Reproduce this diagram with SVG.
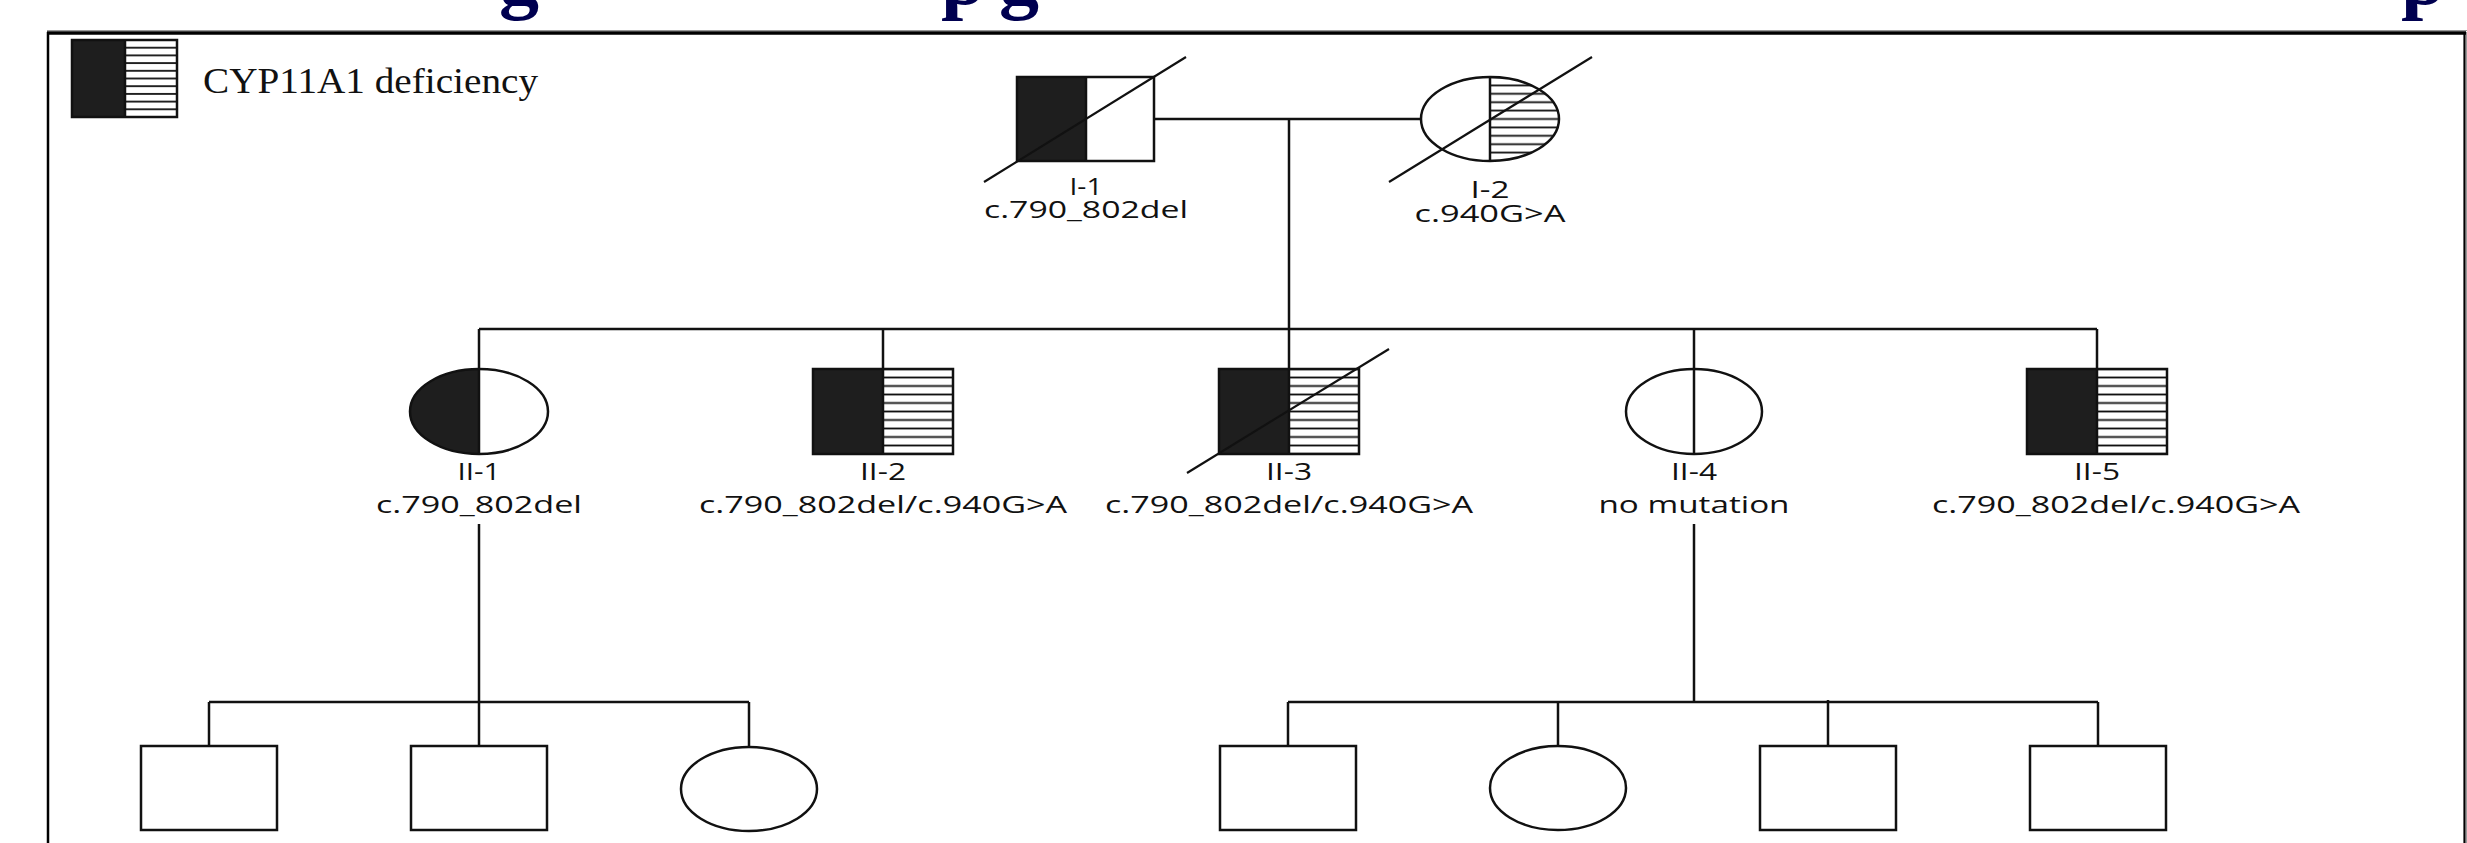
<svg xmlns="http://www.w3.org/2000/svg" width="2467" height="843" viewBox="0 0 2467 843">
<style>
.ln{stroke:#111;stroke-width:2.5;fill:none}
.node{stroke:#111;stroke-width:2.5;fill:none}
.blk{fill:#1e1e1e}
.dx{stroke:#111;stroke-width:2.2}
.lab{font-family:"Open Sans","Noto Sans","DejaVu Sans",sans-serif;font-size:23px;fill:#111;text-anchor:middle}
.leg{font-family:"Liberation Serif","Times New Roman",serif;font-size:35px;fill:#111}
.ttl{font-family:"Liberation Serif","Times New Roman",serif;font-weight:bold;font-size:80px;fill:#000050}
</style>
<defs>
<pattern id="stL" patternUnits="userSpaceOnUse" x="0" y="36.15" width="20" height="7.7"><line x1="0" y1="3.85" x2="20" y2="3.85" stroke="#111" stroke-width="1.8"/></pattern>
<pattern id="stI" patternUnits="userSpaceOnUse" x="0" y="72.8" width="20" height="8.4"><line x1="0" y1="4.2" x2="20" y2="4.2" stroke="#111" stroke-width="1.8"/></pattern>
<pattern id="stII" patternUnits="userSpaceOnUse" x="0" y="364.75" width="20" height="8.5"><line x1="0" y1="4.25" x2="20" y2="4.25" stroke="#111" stroke-width="1.8"/></pattern>
</defs>
<rect x="0" y="0" width="2467" height="843" fill="#ffffff"/>

<g id="title">
<text class="ttl" x="499" y="4">g</text>
<text class="ttl" x="941" y="4">p</text>
<text class="ttl" x="999" y="4">g</text>
<text class="ttl" x="2401" y="4">p</text>
</g>

<g id="frame">
<line x1="47" y1="30.5" x2="2467" y2="30.5" stroke="#999" stroke-width="1"/>
<line x1="47" y1="33" x2="2466" y2="33" stroke="#000" stroke-width="3.5"/>
<line x1="48" y1="32" x2="48" y2="843" stroke="#000" stroke-width="2.5"/>
<line x1="2464.5" y1="32" x2="2464.5" y2="843" stroke="#000" stroke-width="2.2"/>
<line x1="2466.5" y1="32" x2="2466.5" y2="843" stroke="#999" stroke-width="1"/>
</g>

<g id="legend">
<rect x="72" y="40" width="53" height="77" class="blk"/>
<rect x="125" y="40" width="52" height="77" fill="url(#stL)"/>
<rect x="72" y="40" width="105" height="77" class="node"/>
<line x1="125" y1="40" x2="125" y2="117" class="ln"/>
<text class="leg" x="203" y="93" textLength="335" lengthAdjust="spacingAndGlyphs">CYP11A1 deficiency</text>
</g>

<g id="connectors">
<line x1="1154" y1="119" x2="1421" y2="119" class="ln"/>
<line x1="1289" y1="119" x2="1289" y2="369" class="ln"/>
<line x1="479" y1="329" x2="2097" y2="329" class="ln"/>
<line x1="479" y1="329" x2="479" y2="369" class="ln"/>
<line x1="883" y1="329" x2="883" y2="369" class="ln"/>
<line x1="1694" y1="329" x2="1694" y2="369" class="ln"/>
<line x1="2097" y1="329" x2="2097" y2="369" class="ln"/>
<line x1="479" y1="524" x2="479" y2="746" class="ln"/>
<line x1="209" y1="702" x2="749" y2="702" class="ln"/>
<line x1="209" y1="702" x2="209" y2="746" class="ln"/>
<line x1="749" y1="702" x2="749" y2="747" class="ln"/>
<line x1="1694" y1="524" x2="1694" y2="702" class="ln"/>
<line x1="1288" y1="702" x2="2098" y2="702" class="ln"/>
<line x1="1288" y1="702" x2="1288" y2="746" class="ln"/>
<line x1="1558" y1="702" x2="1558" y2="746" class="ln"/>
<line x1="1828" y1="700" x2="1828" y2="746" class="ln"/>
<line x1="2098" y1="702" x2="2098" y2="746" class="ln"/>
</g>

<g id="I-1">
<rect x="1017" y="77" width="69" height="84" class="blk"/>
<rect x="1017" y="77" width="137" height="84" class="node"/>
<line x1="1086" y1="77" x2="1086" y2="161" class="ln"/>
<line x1="984" y1="182" x2="1186" y2="57" class="dx"/>
<text class="lab" x="1086" y="195" textLength="33" lengthAdjust="spacingAndGlyphs">I-1</text>
<text class="lab" x="1086" y="218" textLength="204" lengthAdjust="spacingAndGlyphs">c.790_802del</text>
</g>

<g id="I-2">
<path d="M1490,77 A69,42 0 0 1 1490,161 Z" fill="url(#stI)"/>
<ellipse cx="1490" cy="119" rx="69" ry="42" class="node"/>
<line x1="1490" y1="77" x2="1490" y2="161" class="ln"/>
<line x1="1389" y1="182" x2="1592" y2="57" class="dx"/>
<text class="lab" x="1490" y="198" textLength="39" lengthAdjust="spacingAndGlyphs">I-2</text>
<text class="lab" x="1490" y="222" textLength="151" lengthAdjust="spacingAndGlyphs">c.940G&gt;A</text>
</g>

<g id="II-1">
<path d="M479,369 A69,42.5 0 0 0 479,454 Z" class="blk"/>
<ellipse cx="479" cy="411.5" rx="69" ry="42.5" class="node"/>
<line x1="479" y1="369" x2="479" y2="454" class="ln"/>
<text class="lab" x="479" y="480" textLength="43" lengthAdjust="spacingAndGlyphs">II-1</text>
<text class="lab" x="479" y="513" textLength="206" lengthAdjust="spacingAndGlyphs">c.790_802del</text>
</g>

<g id="II-2">
<rect x="813" y="369" width="70" height="85" class="blk"/>
<rect x="883" y="369" width="70" height="85" fill="url(#stII)"/>
<rect x="813" y="369" width="140" height="85" class="node"/>
<line x1="883" y1="369" x2="883" y2="454" class="ln"/>
<text class="lab" x="883" y="480" textLength="46" lengthAdjust="spacingAndGlyphs">II-2</text>
<text class="lab" x="883" y="513" textLength="368" lengthAdjust="spacingAndGlyphs">c.790_802del/c.940G&gt;A</text>
</g>

<g id="II-3">
<rect x="1219" y="369" width="70" height="85" class="blk"/>
<rect x="1289" y="369" width="70" height="85" fill="url(#stII)"/>
<rect x="1219" y="369" width="140" height="85" class="node"/>
<line x1="1289" y1="369" x2="1289" y2="454" class="ln"/>
<line x1="1187" y1="473" x2="1389" y2="349" class="dx"/>
<text class="lab" x="1289" y="480" textLength="46" lengthAdjust="spacingAndGlyphs">II-3</text>
<text class="lab" x="1289" y="513" textLength="368" lengthAdjust="spacingAndGlyphs">c.790_802del/c.940G&gt;A</text>
</g>

<g id="II-4">
<ellipse cx="1694" cy="411.5" rx="68" ry="42.5" class="node"/>
<line x1="1694" y1="369" x2="1694" y2="454" class="ln"/>
<text class="lab" x="1694" y="480" textLength="46" lengthAdjust="spacingAndGlyphs">II-4</text>
<text class="lab" x="1694" y="513" textLength="191" lengthAdjust="spacingAndGlyphs">no mutation</text>
</g>

<g id="II-5">
<rect x="2027" y="369" width="70" height="85" class="blk"/>
<rect x="2097" y="369" width="70" height="85" fill="url(#stII)"/>
<rect x="2027" y="369" width="140" height="85" class="node"/>
<line x1="2097" y1="369" x2="2097" y2="454" class="ln"/>
<text class="lab" x="2097" y="480" textLength="46" lengthAdjust="spacingAndGlyphs">II-5</text>
<text class="lab" x="2116" y="513" textLength="368" lengthAdjust="spacingAndGlyphs">c.790_802del/c.940G&gt;A</text>
</g>

<g id="III-1"><rect x="141" y="746" width="136" height="84" class="node"/></g>
<g id="III-2"><rect x="411" y="746" width="136" height="84" class="node"/></g>
<g id="III-3"><ellipse cx="749" cy="789" rx="68" ry="42" class="node"/></g>
<g id="III-4"><rect x="1220" y="746" width="136" height="84" class="node"/></g>
<g id="III-5"><ellipse cx="1558" cy="788" rx="68" ry="42" class="node"/></g>
<g id="III-6"><rect x="1760" y="746" width="136" height="84" class="node"/></g>
<g id="III-7"><rect x="2030" y="746" width="136" height="84" class="node"/></g>
</svg>
